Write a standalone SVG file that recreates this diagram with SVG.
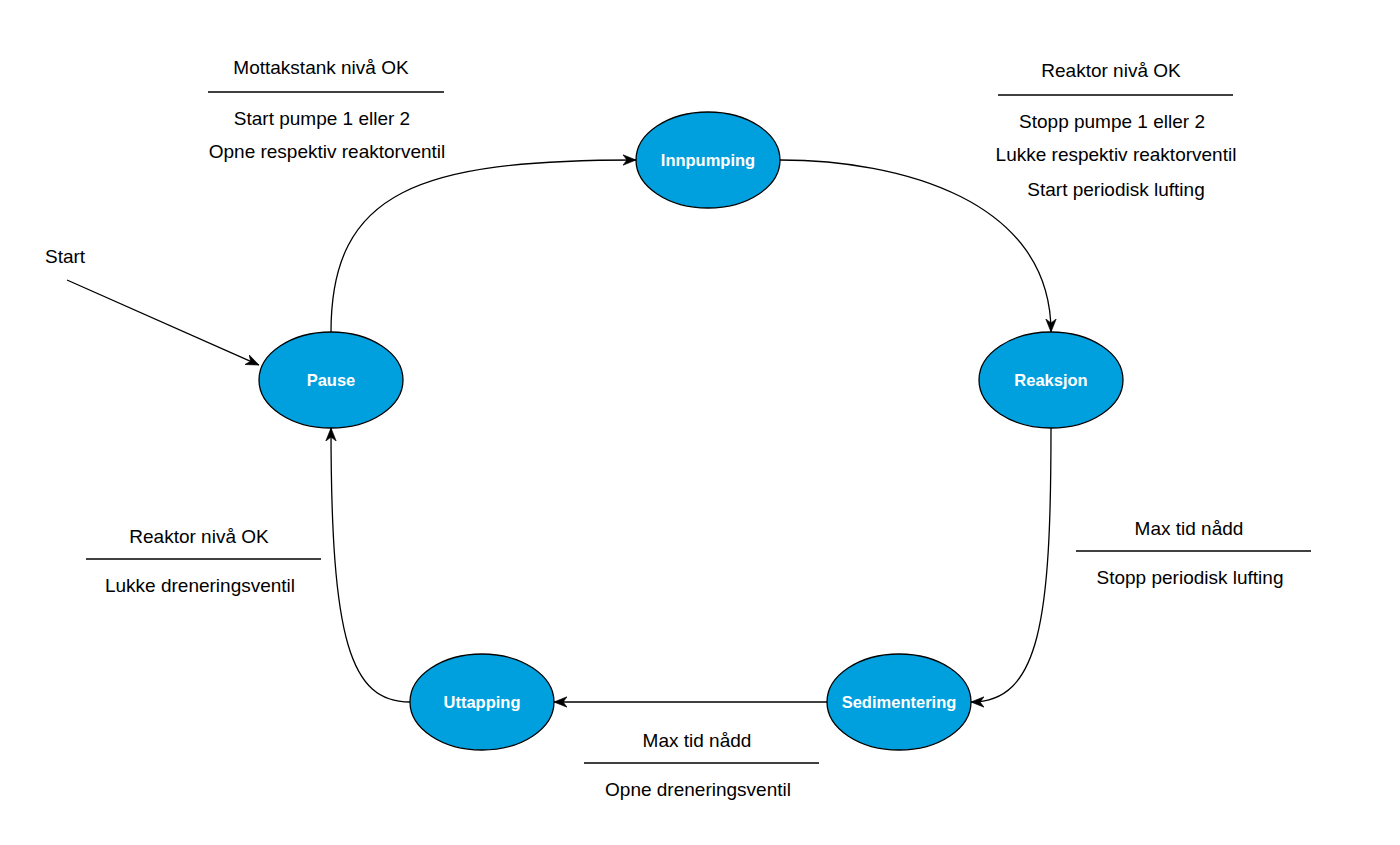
<svg xmlns="http://www.w3.org/2000/svg" width="1400" height="845" viewBox="0 0 1400 845">
<style>
.node{fill:#009FDD;stroke:#000;stroke-width:1.3}
.nl{font-family:"Liberation Sans",Arial,sans-serif;font-size:16.5px;font-weight:bold;fill:#fff;text-anchor:middle}
.t{font-family:"Liberation Sans",Arial,sans-serif;font-size:19px;fill:#000;text-anchor:middle}
.sep{stroke:#000;stroke-width:1.3}
.edge{fill:none;stroke:#000;stroke-width:1.3;marker-end:url(#arr)}
</style>
<defs>
<marker id="arr" viewBox="0 0 10 10" refX="10" refY="5" markerWidth="13" markerHeight="13" markerUnits="userSpaceOnUse" orient="auto">
<path d="M0,1 L10,5 L0,9 L3,5 Z" fill="#000" stroke="#000" stroke-width="0.5"/>
</marker>
</defs>
<rect width="1400" height="845" fill="#fff"/>
<g id="connectors">
<path class="edge" d="M331,332 C331,190 420,160 636,160"/>
<path class="edge" d="M780,160 C900,160 1051,200 1051,332"/>
<path class="edge" d="M1051,428 C1051,620 1040,702 971,702"/>
<path class="edge" d="M827,702 L554,702"/>
<path class="edge" d="M410,702 C350,702 331,640 331,428"/>
<path class="edge" d="M67,280 L259,365"/>
</g>
<g id="pause"><ellipse class="node" cx="331" cy="380" rx="72" ry="48"/><text class="nl" x="331" y="386">Pause</text></g>
<g id="innpumping"><ellipse class="node" cx="708" cy="160" rx="72" ry="48"/><text class="nl" x="708" y="166">Innpumping</text></g>
<g id="reaksjon"><ellipse class="node" cx="1051" cy="380" rx="72" ry="48"/><text class="nl" x="1051" y="386">Reaksjon</text></g>
<g id="sedimentering"><ellipse class="node" cx="899" cy="702" rx="72" ry="48"/><text class="nl" x="899" y="708">Sedimentering</text></g>
<g id="uttapping"><ellipse class="node" cx="482" cy="702" rx="72" ry="48"/><text class="nl" x="482" y="708">Uttapping</text></g>
<g id="start-label"><text class="t" x="45" y="263" style="text-anchor:start">Start</text></g>
<g id="label-pause-innpumping">
<text class="t" x="321" y="74">Mottakstank nivå OK</text>
<line class="sep" x1="208" y1="92" x2="444" y2="92"/>
<text class="t" x="322" y="125">Start pumpe 1 eller 2</text>
<text class="t" x="327" y="158">Opne respektiv reaktorventil</text>
</g>
<g id="label-innpumping-reaksjon">
<text class="t" x="1111" y="77">Reaktor nivå OK</text>
<line class="sep" x1="998" y1="95" x2="1233" y2="95"/>
<text class="t" x="1112" y="128">Stopp pumpe 1 eller 2</text>
<text class="t" x="1116" y="161">Lukke respektiv reaktorventil</text>
<text class="t" x="1116" y="196">Start periodisk lufting</text>
</g>
<g id="label-reaksjon-sedimentering">
<text class="t" x="1189" y="535">Max tid nådd</text>
<line class="sep" x1="1076" y1="551" x2="1311" y2="551"/>
<text class="t" x="1190" y="584">Stopp periodisk lufting</text>
</g>
<g id="label-uttapping-pause">
<text class="t" x="199" y="543">Reaktor nivå OK</text>
<line class="sep" x1="86" y1="559" x2="321" y2="559"/>
<text class="t" x="200" y="592">Lukke dreneringsventil</text>
</g>
<g id="label-sedimentering-uttapping">
<text class="t" x="697" y="747">Max tid nådd</text>
<line class="sep" x1="584" y1="763" x2="819" y2="763"/>
<text class="t" x="698" y="796">Opne dreneringsventil</text>
</g>
</svg>
